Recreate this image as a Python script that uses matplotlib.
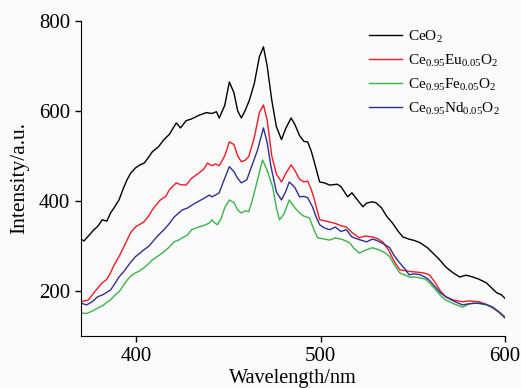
import matplotlib
matplotlib.use('Agg')
import matplotlib.pyplot as plt

plt.rcParams['font.family'] = ['Liberation Serif', 'DejaVu Serif']
plt.rcParams['mathtext.fontset'] = 'custom'
plt.rcParams['mathtext.rm'] = 'Liberation Serif'
plt.rcParams['mathtext.it'] = 'Liberation Serif:italic'

# CeO2
wl_ceo2 = [370, 371.6, 374, 377, 379, 381.5, 384, 386, 388, 390.6, 393, 395, 397, 399.5, 402,
           404.3, 406.5, 408.7, 412, 415, 418, 421.7, 424, 427, 430, 434, 438, 441, 443.5, 445,
           448, 450.5, 453, 455, 457, 459, 461.4, 464, 466.8, 469, 471, 473.5, 476, 478.8, 481,
           484, 486, 488.6, 491, 493, 495, 497, 499.5, 502, 505, 509, 511, 514.7, 517, 520,
           523, 525, 528, 530, 533, 536, 539, 542, 544.6, 548, 551, 554, 558, 561, 564,
           568, 572, 575.5, 579, 582.6, 586, 590, 593, 595.6, 598, 600]
i_ceo2 = [315, 311, 322, 336, 343, 358, 355, 373, 385, 402, 428, 447, 462, 473, 480,
          484, 496, 509, 520, 536, 548, 573, 562, 578, 582, 590, 596, 594, 598, 584,
          612, 664, 640, 600, 584, 600, 624, 660, 720, 742, 700, 624, 565, 536, 560,
          584, 570, 545, 532, 531, 510, 480, 442, 440, 435, 437, 432, 409, 418, 402,
          387, 395, 398, 396, 385, 365, 351, 333, 320, 315, 312, 307, 296, 284, 272,
          253, 240, 231, 235, 231, 226, 218, 206, 196, 192, 184]

# Ce0.95Eu0.05O2
wl_eu = [370, 372, 374, 377, 379, 381.5, 384, 386, 388, 390.6, 393, 395, 397, 399.5, 402,
         404, 406.5, 408.7, 411, 413, 416, 418, 421.7, 424, 427, 430, 434, 436.5, 438.6, 441,
         443, 445, 448, 450.5, 453, 455, 457, 459, 461, 464, 466.8, 469, 471, 473.5, 476,
         478.8, 481, 484, 486, 488.6, 491, 493, 495, 496.7, 499.5, 502, 505, 508, 511, 514,
         517, 521, 524, 528, 531, 533.7, 537, 540, 543, 546, 549, 552, 556, 559, 562,
         565, 568, 572, 577, 581, 586, 590, 593.5, 597, 600]
i_eu = [176, 178, 180, 196, 206, 218, 226, 240, 258, 276, 296, 313, 330, 342, 348,
        353, 365, 380, 392, 402, 410, 425, 440, 436, 435, 450, 462, 470, 484, 478,
        482, 478, 500, 531, 525, 500, 487, 490, 498, 540, 596, 613, 580, 500, 460,
        442, 460, 480, 468, 448, 442, 444, 425, 402, 358, 356, 353, 350, 345, 342,
        330, 318, 322, 320, 316, 309, 290, 265, 247, 245, 243, 242, 240, 236, 220,
        200, 187, 180, 176, 178, 176, 170, 162, 152, 140]

# Ce0.95Fe0.05O2
wl_fe = [370, 373, 376, 379, 382, 384, 386, 388, 390.6, 393, 395, 397, 399.5, 402, 404,
         406.5, 408.7, 412, 415, 418, 420.5, 423, 425, 427.7, 430, 434, 437, 439.7, 441, 442,
         444, 446, 448, 450.5, 453, 455, 457, 459, 461, 463, 466, 468.5, 471, 474, 476,
         477.7, 480, 483, 486, 488.6, 491, 494, 496, 498.4, 501, 505, 508, 512, 515.8, 518,
         521, 524, 528, 532, 535, 537.5, 540, 543, 546, 548, 551, 554, 557, 559, 562,
         565, 568, 572, 577, 580, 582.6, 586, 590, 593.5, 597, 600]
i_fe = [151, 150, 155, 162, 168, 175, 180, 189, 198, 212, 224, 233, 240, 245, 251,
        260, 269, 278, 287, 298, 309, 313, 318, 324, 336, 342, 346, 351, 358, 353,
        347, 360, 385, 402, 396, 380, 373, 378, 376, 402, 450, 491, 468, 431, 385,
        358, 370, 402, 385, 373, 366, 362, 340, 318, 316, 313, 318, 314, 307, 295,
        284, 290, 296, 291, 285, 276, 258, 240, 235, 231, 231, 229, 226, 218, 205,
        190, 180, 172, 164, 170, 173, 172, 169, 163, 152, 142]

# Ce0.95Nd0.05O2
wl_nd = [370, 373, 376, 379, 382, 384, 386, 388, 390.6, 393, 395, 397, 399.5, 402, 404,
         407, 409.6, 412, 415, 418, 420.5, 423, 425, 427.7, 430, 432, 436, 439.7, 441, 443,
         445, 447, 450.5, 453, 455, 457, 460, 462, 465.8, 469, 471, 473, 476, 478.8, 481,
         483, 486, 488.6, 491, 493, 495.6, 497.5, 499.5, 502, 505, 508, 511, 514, 517, 521,
         525, 528, 530, 534, 537.5, 540, 543, 546, 548, 551, 554, 557, 559, 562, 565,
         568, 572, 577, 581, 586, 590, 593.5, 597, 600]
i_nd = [173, 169, 176, 187, 192, 197, 202, 214, 231, 242, 253, 264, 276, 284, 291,
        300, 313, 324, 336, 350, 364, 373, 380, 384, 390, 395, 404, 413, 409, 413,
        418, 440, 476, 465, 450, 440, 447, 470, 513, 562, 530, 478, 420, 402, 420,
        442, 430, 409, 410, 407, 387, 365, 347, 340, 336, 342, 332, 336, 320, 314,
        309, 315, 313, 305, 296, 278, 262, 248, 236, 238, 236, 230, 224, 210, 196,
        187, 178, 169, 172, 173, 170, 164, 153, 142]

fig = plt.figure(figsize=(5.21, 3.88), dpi=100, facecolor='#fafafa')
ax = fig.add_axes([0.1555, 0.134, 0.8135, 0.8126])
ax.set_facecolor('#fafafa')

lw = 1.0
ax.plot(wl_ceo2, i_ceo2, color='black', lw=lw, label=r'CeO$_2$')
ax.plot(wl_eu, i_eu, color='#ee1c25', lw=lw, label=r'Ce$_{0.95}$Eu$_{0.05}$O$_2$')
ax.plot(wl_fe, i_fe, color='#3ab54a', lw=lw, label=r'Ce$_{0.95}$Fe$_{0.05}$O$_2$')
ax.plot(wl_nd, i_nd, color='#2e3192', lw=lw, label=r'Ce$_{0.95}$Nd$_{0.05}$O$_2$')

ax.set_xlim(370, 600)
ax.set_ylim(100, 800)
ax.set_xticks([400, 500, 600])
ax.set_yticks([200, 400, 600, 800])
ax.spines['top'].set_visible(False)
ax.spines['right'].set_visible(False)
ax.tick_params(direction='out', length=4.3, width=1, labelsize=15, pad=3.5)
ax.set_xlabel('Wavelength/nm', fontsize=14.6, labelpad=2)
ax.set_ylabel('Intensity/a.u.', fontsize=15.5, labelpad=7)

ax.legend(loc='upper left', bbox_to_anchor=(0.679, 0.975), frameon=False, fontsize=11,
          borderpad=0, borderaxespad=0, handlelength=2.2, handletextpad=0.35,
          labelspacing=0.52)

fig.savefig('out.png', dpi=100, facecolor=fig.get_facecolor())
